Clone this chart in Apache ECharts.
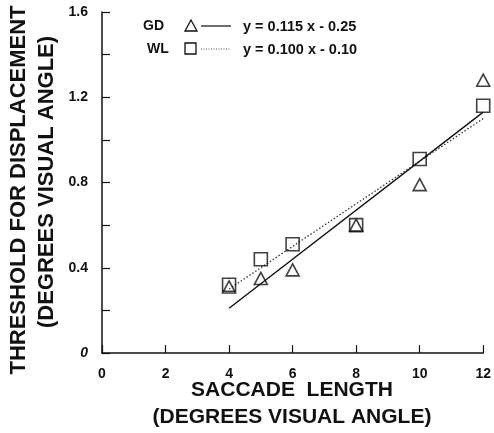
<!DOCTYPE html>
<html><head><meta charset="utf-8">
<script src="https://cdn.jsdelivr.net/npm/echarts@6/dist/echarts.min.js"></script>
<style>html,body{margin:0;padding:0;background:#fff}#c{width:494px;height:433px}</style>
</head><body><div id="c"></div>
<script>
var saccade = [4, 5, 6, 8, 10, 12];
var gdValues = [0.31, 0.35, 0.39, 0.60, 0.79, 1.28];
var wlValues = [0.32, 0.44, 0.51, 0.60, 0.91, 1.16];
var gdFit = [[4, 0.21], [12, 1.13]];
var wlFit = [[4, 0.30], [12, 1.10]];
var xTicks = [0, 2, 4, 6, 8, 10, 12];
var yTickLabels = [0, 0.4, 0.8, 1.2, 1.6];
var legendNames = ['GD', 'WL'];
var legendEqs = ['y = 0.115 x - 0.25', 'y = 0.100 x - 0.10'];

var F = '"Liberation Sans", Arial, Helvetica, sans-serif';
function pairs(xs, ys){ return xs.map(function(x,i){ return [x, ys[i]]; }); }

var chart = echarts.init(document.getElementById('c'));
chart.setOption({
  animation: false,
  grid: {left: 102, right: 9, top: 12, bottom: 80},
  xAxis: {
    type: 'value', min: 0, max: 12, interval: 2,
    axisLine: {lineStyle: {color: '#111', width: 1.5}},
    axisTick: {inside: true, length: 8, lineStyle: {color: '#111', width: 1.2}},
    axisLabel: {color: '#111', fontFamily: F, fontWeight: 'bold', fontSize: 14, margin: 14,
      formatter: function(v){ return xTicks.indexOf(v) >= 0 ? String(v) : ''; }},
    splitLine: {show: false}
  },
  yAxis: {
    type: 'value', min: 0, max: 1.6, interval: 0.2,
    axisLine: {show: true, lineStyle: {color: '#111', width: 1.5}},
    axisTick: {show: true, inside: true, length: 8, lineStyle: {color: '#111', width: 1.2}},
    axisLabel: {color: '#111', fontFamily: F, fontWeight: 'bold', fontSize: 14, margin: 14,
      formatter: function(v){
        var r = Math.round(v * 10) / 10;
        for (var i = 0; i < yTickLabels.length; i++) {
          if (Math.abs(yTickLabels[i] - r) < 1e-6 && Math.abs(v - r) < 1e-6) {
            return r === 0 ? '{i|0}' : r.toFixed(1);
          }
        }
        return '';
      },
      rich: {i: {fontStyle: 'italic', fontWeight: 'bold', fontFamily: F, fontSize: 14, color: '#111'}}
    },
    splitLine: {show: false}
  },
  series: [
    {name: 'GD fit', type: 'line', data: gdFit, symbol: 'none',
      lineStyle: {color: '#111', width: 1.4, type: 'solid'}, z: 2},
    {name: 'WL fit', type: 'line', data: wlFit, symbol: 'none',
      lineStyle: {color: '#333', width: 1.3, type: [1.5, 2]}, z: 2},
    {name: 'GD', type: 'scatter', data: pairs(saccade, gdValues), symbol: 'triangle', symbolSize: [13, 12],
      itemStyle: {color: 'rgba(255,255,255,0)', borderColor: '#111', borderWidth: 1.6}, z: 3},
    {name: 'WL', type: 'scatter', data: pairs(saccade, wlValues), symbol: 'rect', symbolSize: 13,
      itemStyle: {color: 'rgba(255,255,255,0)', borderColor: '#111', borderWidth: 1.6}, z: 3}
  ],
  graphic: [
    {type: 'text', x: 143, y: 26, style: {text: legendNames[0], font: 'bold 14px ' + F, fill: '#111', textVerticalAlign: 'middle'}},
    {type: 'polygon', shape: {points: [[185, 31], [191, 20], [197, 31]]}, style: {fill: 'none', stroke: '#111', lineWidth: 1.3}},
    {type: 'line', shape: {x1: 201, y1: 26, x2: 231, y2: 26}, style: {stroke: '#111', lineWidth: 1.2}},
    {type: 'text', x: 243, y: 27, style: {text: legendEqs[0], font: 'bold 14.5px ' + F, fill: '#111', textVerticalAlign: 'middle'}},
    {type: 'text', x: 147, y: 49, style: {text: legendNames[1], font: 'bold 14px ' + F, fill: '#111', textVerticalAlign: 'middle'}},
    {type: 'rect', shape: {x: 185, y: 43, width: 11, height: 11}, style: {fill: 'none', stroke: '#111', lineWidth: 1.3}},
    {type: 'line', shape: {x1: 201, y1: 49, x2: 231, y2: 49}, style: {stroke: '#555', lineWidth: 1, lineDash: [1, 1.5]}},
    {type: 'text', x: 243, y: 50, style: {text: legendEqs[1], font: 'bold 14.5px ' + F, fill: '#111', textVerticalAlign: 'middle'}},
    {type: 'text', x: 292, y: 390, style: {text: 'SACCADE  LENGTH', font: 'bold 21px ' + F, fill: '#111', textAlign: 'center', textVerticalAlign: 'middle'}},
    {type: 'text', x: 292, y: 417, style: {text: '(DEGREES VISUAL ANGLE)', font: 'bold 21px ' + F, fill: '#111', textAlign: 'center', textVerticalAlign: 'middle'}},
    {type: 'text', x: 19, y: 190, rotation: Math.PI / 2, style: {text: 'THRESHOLD FOR DISPLACEMENT', font: 'bold 22px ' + F, fill: '#111', textAlign: 'center', textVerticalAlign: 'middle'}},
    {type: 'text', x: 47, y: 182, rotation: Math.PI / 2, style: {text: '(DEGREES VISUAL ANGLE)', font: 'bold 22px ' + F, fill: '#111', textAlign: 'center', textVerticalAlign: 'middle'}}
  ]
});
</script></body></html>
